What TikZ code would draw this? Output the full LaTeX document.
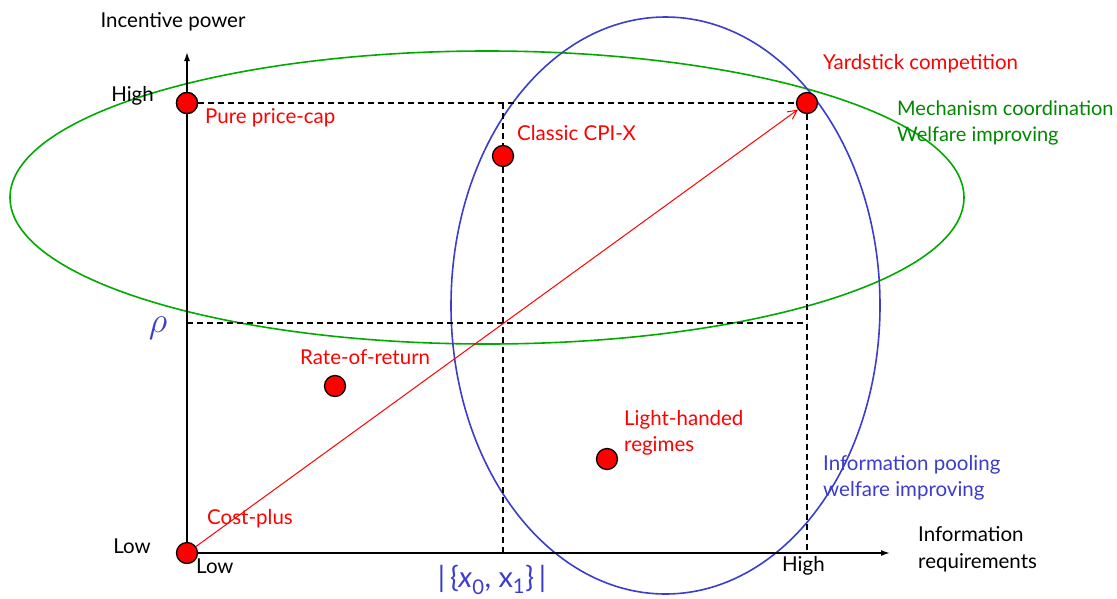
\documentclass[tikz,border=0pt]{standalone}
\usepackage{fontspec}
\setmainfont{Lato}
\usetikzlibrary{arrows.meta}
\definecolor{ered}{RGB}{255,0,0}
\definecolor{egreen}{RGB}{0,170,0}
\definecolor{tgreen}{RGB}{0,135,0}
\definecolor{eblue}{RGB}{60,60,205}
\tikzset{
  lbl/.style={font=\fontsize{20.5}{26.5}\selectfont, inner sep=0pt, align=left},
  redlbl/.style={lbl, text=ered},
  dot/.style={circle, draw=black, fill=ered, line width=1.3pt, minimum size=21pt, inner sep=0pt},
  guide/.style={dashed, dash pattern=on 6pt off 4pt, line width=1.2pt},
  axis/.style={line width=1.5pt, -{Latex[length=9pt,width=6pt]}},
  greenell/.style={draw=egreen, line width=1.6pt},
  blueell/.style={draw=eblue, line width=1.6pt}
}
\begin{document}
\begin{tikzpicture}[x=1pt,y=-1pt]
\useasboundingbox (0,0) rectangle (1117,598);
% ellipses
\draw[greenell] (487,197.5) ellipse [x radius=477pt, y radius=146.5pt];
\draw[blueell] (665.5,305.5) ellipse [x radius=214.5pt, y radius=288.5pt];
% coordinates
\coordinate (origin) at (187,553);
\coordinate (ytip) at (187,52);
\coordinate (xtip) at (890,553);
\coordinate (cpitop) at (503,103);
\coordinate (cpibot) at (503,553);
\coordinate (yardbot) at (807,553);
\coordinate (rhoL) at (187,323);
\coordinate (rhoR) at (807,323);
% dots
\node[dot] (pure) at (187,103) {};
\node[dot] (yard) at (807,103) {};
\node[dot] (cpi) at (503,156) {};
\node[dot] (ror) at (335,386) {};
\node[dot] (light) at (607,459) {};
% guides
\draw[guide] (pure) -- (yard);
\draw[guide] (yard) -- (yardbot);
\draw[guide] (cpitop) -- (cpi);
\draw[guide] (cpi) -- (cpibot);
\draw[guide] (rhoL) -- (rhoR);
% axes
\draw[axis] (origin) -- (ytip);
\draw[axis] (origin) -- (xtip);
\node[dot] (cost) at (187,553) {};
\node[dot] at (187,103) {};
% red arrow
\draw[ered, line width=1pt, -{Straight Barb[length=9pt,width=9pt]}] (cost) -- (yard);
% labels
\node[lbl, anchor=center] (ylab) at (173,22) {Incentive power};
\node[lbl, anchor=east] (yhigh) at (154,96) {High};
\node[lbl, anchor=east] (ylow) at (151,546) {Low};
\node[lbl, anchor=west] (xlow) at (196,566) {Low};
\node[lbl, anchor=west] (xhigh) at (782,566) {High};
\node[lbl, anchor=west] (xlab) at (918,549) {Information\\requirements};
\node[lbl, anchor=center, text=eblue] (rho) at (158,328) {\scalebox{1.75}{$\rho$}};
\node[lbl, anchor=center, text=eblue, font=\fontsize{29}{30}\selectfont] (set) at (492,580) {|\,\{\textit{x}\textsubscript{0}, x\textsubscript{1}\}\,|};
\node[redlbl, anchor=west] (purel) at (205,118) {Pure price-cap};
\node[redlbl, anchor=west] (cpil) at (517,133) {Classic CPI-X};
\node[redlbl, anchor=west] (yardl) at (823,64) {Yardstick competition};
\node[lbl, anchor=west, text=tgreen, font=\fontsize{20}{26.5}\selectfont] (mech) at (897,123) {Mechanism coordination\\Welfare improving};
\node[redlbl, anchor=west] (rorl) at (300,357) {Rate-of-return};
\node[redlbl, anchor=west] (lightl) at (624,433) {Light-handed\\regimes};
\node[lbl, anchor=west, text=eblue] (pool) at (823,478) {Information pooling\\welfare improving};
\node[redlbl, anchor=west] (costl) at (207,519) {Cost-plus};
\end{tikzpicture}
\end{document}
